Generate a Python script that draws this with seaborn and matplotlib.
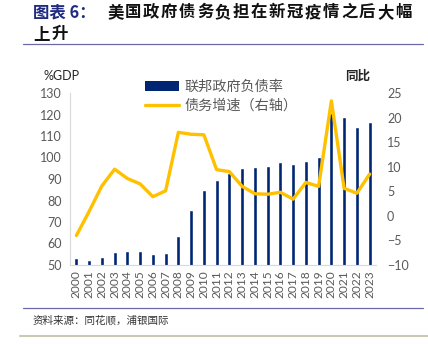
import matplotlib
matplotlib.use("Agg")
import matplotlib.pyplot as plt
from matplotlib.lines import Line2D
from matplotlib.patches import Patch
import seaborn as sns
import pandas as pd

# US federal debt (% of GDP) and year-on-year debt growth (%)
years = [str(y) for y in range(2000, 2024)]
debt_ratio = [53.2, 52.3, 53.7, 56.0, 56.5, 56.3, 55.3, 55.4, 63.6, 75.7, 85.0, 89.5,
              92.7, 95.3, 95.5, 96.0, 97.8, 97.0, 98.6, 100.1, 120.5, 119.0, 114.2, 116.5]
debt_growth = [-4.0, 0.9, 6.1, 9.5, 7.6, 6.5, 3.9, 5.1, 17.0, 16.6, 16.5, 9.4,
               9.0, 6.0, 4.5, 4.4, 4.8, 3.4, 6.8, 6.0, 23.4, 5.6, 4.6, 8.5]

title_tag = "图表 6："
title_main = "美国政府债务负担在新冠疫情之后大幅"
title_line2 = "上升"
legend_labels = ["联邦政府负债率", "债务增速（右轴）"]
left_label = "%GDP"
right_label = "同比"
source_text = "资料来源：同花顺，浦银国际"

sns.set_theme(style="white")
plt.rcParams["font.family"] = ["Lato", "Noto Sans CJK SC", "DejaVu Sans"]
cjk = ["Noto Sans CJK SC", "DejaVu Sans"]

bar_color = "#002673"
line_color = "#FFC000"
tick_color = "#595959"

df = pd.DataFrame({"year": years, "ratio": debt_ratio, "growth": debt_growth,
                   "pos": range(len(years))})

W, H = 428, 344
fig = plt.figure(figsize=(W / 100, H / 100), dpi=100)
ax = fig.add_axes([70 / W, 1 - 265 / H, 306 / W, 172 / H])

sns.barplot(data=df, x="year", y="ratio", color=bar_color, width=0.32,
            saturation=1, ax=ax)
ax.set_ylim(50, 130)
ax.set_xlim(-0.5, len(years) - 0.5)
ax.set_yticks(range(50, 131, 10))
ax.set_xlabel("")
ax.set_ylabel("")
ax.tick_params(axis="y", length=0, labelsize=9, labelcolor=tick_color, pad=6)
ax.tick_params(axis="x", length=0, labelsize=8.6, labelcolor=tick_color,
               rotation=90, pad=4)
for s in ["top", "right"]:
    ax.spines[s].set_visible(False)
for s in ["left", "bottom"]:
    ax.spines[s].set_color("#d9d9d9")
    ax.spines[s].set_linewidth(0.8)

ax2 = ax.twinx()
sns.lineplot(data=df, x="pos", y="growth", color=line_color, linewidth=2.4,
             ax=ax2)
ax2.set_ylim(-10, 25)
ax2.set_yticks(range(-10, 26, 5))
ax2.set_xlim(-0.5, len(years) - 0.5)
ax2.set_ylabel("")
ax2.set_xlabel("")
ax2.tick_params(axis="y", length=0, labelsize=9, labelcolor=tick_color, pad=8)
for s in ["top", "right", "left", "bottom"]:
    ax2.spines[s].set_visible(False)

# legend
handles = [Patch(facecolor=bar_color, edgecolor="none"),
           Line2D([0], [0], color=line_color, linewidth=2.4)]
leg = fig.legend(handles, legend_labels, loc="upper left",
                 bbox_to_anchor=(132 / W, 1 - 67 / H), frameon=False,
                 prop={"family": cjk, "size": 10.2}, handlelength=2.4,
                 handletextpad=0.4, labelspacing=0.35)
for t in leg.get_texts():
    t.set_color("#595959")

# axis unit labels
fig.text(62 / W, 1 - 76 / H, left_label, ha="center", va="center",
         fontsize=9, color="#262626")
fig.text(358 / W, 1 - 76 / H, right_label, ha="center", va="center",
         fontsize=9, color="#262626", family=cjk, fontweight="bold")


def spaced_text(x0, y, text, step, **kw):
    """Draw a string one glyph at a time with a fixed advance (in pixels)."""
    for i, ch in enumerate(text):
        fig.text((x0 + i * step) / W, 1 - y / H, ch, ha="left", va="center", **kw)


title_kw = dict(fontsize=11.8, family=cjk, fontweight="bold")
fig.text(33 / W, 1 - 12 / H, title_tag, ha="left", va="center",
         color="#1f2a80", **title_kw)
spaced_text(107, 12, title_main, 18.0, color="#111111", **title_kw)
spaced_text(33, 34, title_line2, 18.0, color="#111111", **title_kw)

# rules and footer
fig.add_artist(Line2D([23 / W, 423 / W], [1 - 44 / H, 1 - 44 / H],
                      color="#6a6aa8", linewidth=0.9))
fig.add_artist(Line2D([23 / W, 423 / W], [1 - 308 / H, 1 - 308 / H],
                      color="#6a6aa8", linewidth=0.9))
fig.text(33 / W, 1 - 320 / H, source_text, ha="left", va="center",
         fontsize=7.6, color="#333333", family=cjk)
fig.add_artist(Line2D([20 / W, 1.0], [1 - 336 / H, 1 - 336 / H],
                      color="#c9c9b4", linewidth=1.5))

fig.savefig("out.png", dpi=100)
